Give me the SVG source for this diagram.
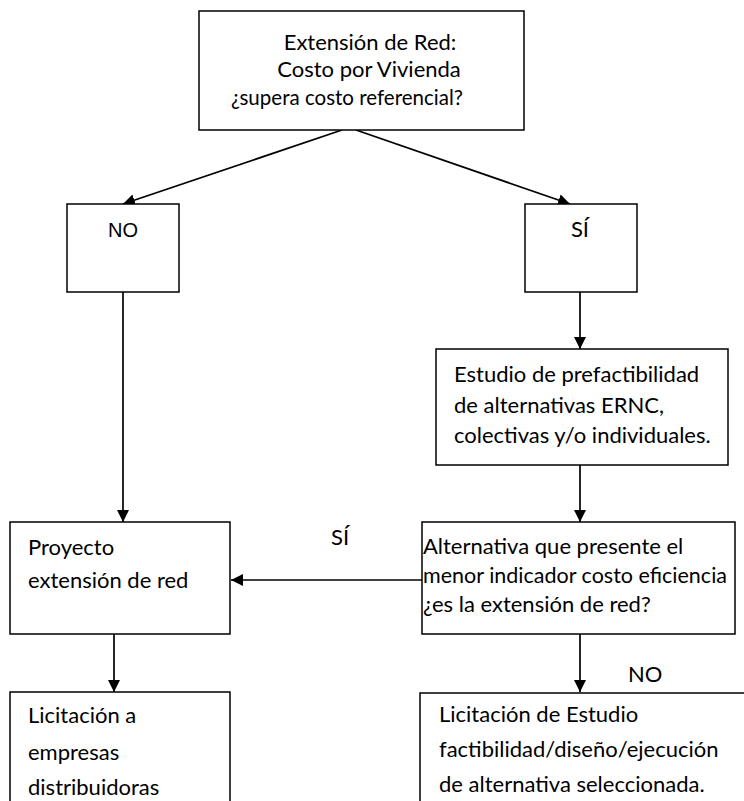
<svg xmlns="http://www.w3.org/2000/svg" width="744" height="801" viewBox="0 0 744 801">
<style>
.box{fill:#fff;stroke:#000;stroke-width:1.5}
.t{font-family:Lato,"Open Sans","Liberation Sans",sans-serif;font-size:22px;fill:#000}
.a{font-family:"Liberation Sans",Arial,sans-serif;font-size:20px;fill:#000}
.c{text-anchor:middle}
.ln{stroke:#000;stroke-width:1.7;fill:none;marker-end:url(#ah)}
</style>
<defs>
<marker id="ah" viewBox="0 0 12 12" refX="12" refY="6" markerWidth="12" markerHeight="12" markerUnits="userSpaceOnUse" orient="auto">
<path d="M0,0 L12,6 L0,12 Z" fill="#000"/>
</marker>
</defs>
<rect width="744" height="801" fill="#fff"/>
<g id="connectors">
<line class="ln" x1="342" y1="130" x2="123" y2="204"/>
<line class="ln" x1="356" y1="130" x2="570" y2="204"/>
<line class="ln" x1="123" y1="292" x2="123" y2="522"/>
<line class="ln" x1="580" y1="292" x2="580" y2="349"/>
<line class="ln" x1="580" y1="465" x2="580" y2="522"/>
<line class="ln" x1="422" y1="580" x2="231" y2="580"/>
<line class="ln" x1="580" y1="634" x2="580" y2="692"/>
<line class="ln" x1="114" y1="634" x2="114" y2="692"/>
<text class="t" x="331" y="545">SÍ</text>
<text class="t" x="628" y="682">NO</text>
</g>
<g id="n-top">
<rect class="box" x="199" y="11" width="325" height="119"/>
<text class="t c" x="370" y="50">Extensión de Red:</text>
<text class="t c" x="369" y="77">Costo por Vivienda</text>
<text class="t" x="231" y="105" textLength="232" lengthAdjust="spacingAndGlyphs">¿supera costo referencial?</text>
</g>
<g id="n-no">
<rect class="box" x="67" y="204" width="112" height="88"/>
<text class="a c" x="123" y="237">NO</text>
</g>
<g id="n-si">
<rect class="box" x="525" y="204" width="112" height="88"/>
<text class="t c" x="580" y="237">SÍ</text>
</g>
<g id="n-estudio">
<rect class="box" x="436" y="349" width="292" height="116"/>
<text class="t" x="454" y="382">Estudio de prefactibilidad</text>
<text class="t" x="454" y="413">de alternativas ERNC,</text>
<text class="t" x="454" y="443">colectivas y/o individuales.</text>
</g>
<g id="n-proyecto">
<rect class="box" x="10" y="522" width="220" height="112"/>
<text class="t" x="28" y="555">Proyecto</text>
<text class="t" x="28" y="588">extensión de red</text>
</g>
<g id="n-alternativa">
<rect class="box" x="422" y="522" width="313" height="112"/>
<text class="t" x="423" y="554">Alternativa que presente el</text>
<text class="t" x="423" y="583" textLength="304" lengthAdjust="spacingAndGlyphs">menor indicador costo eficiencia</text>
<text class="t" x="423" y="612">¿es la extensión de red?</text>
</g>
<g id="n-licitacion-a">
<rect class="box" x="10" y="692" width="220" height="120"/>
<text class="t" x="28" y="723">Licitación a</text>
<text class="t" x="28" y="760">empresas</text>
<text class="t" x="28" y="795">distribuidoras</text>
</g>
<g id="n-licitacion-estudio">
<rect class="box" x="420" y="693" width="330" height="120"/>
<text class="t" x="439" y="722">Licitación de Estudio</text>
<text class="t" x="439" y="757">factibilidad/diseño/ejecución</text>
<text class="t" x="439" y="792">de alternativa seleccionada.</text>
</g>
</svg>
